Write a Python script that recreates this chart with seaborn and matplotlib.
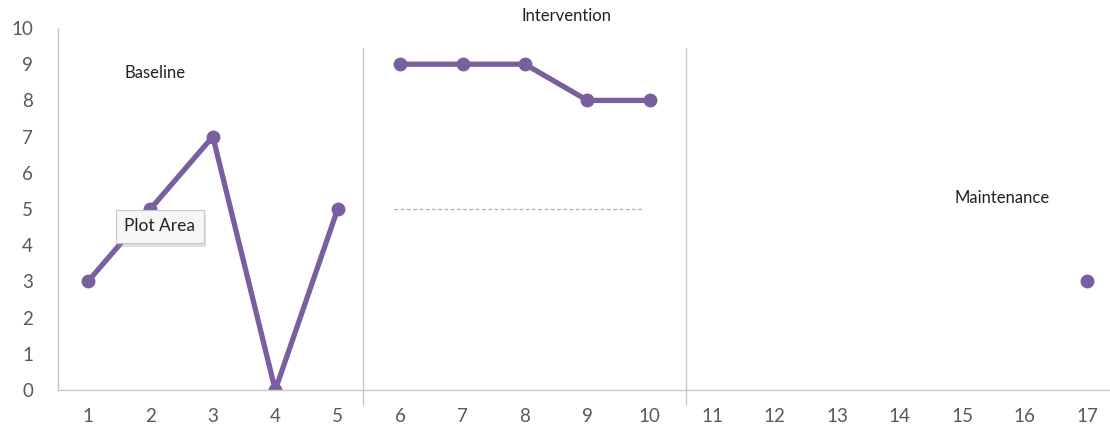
import matplotlib
matplotlib.use("Agg")
import matplotlib.pyplot as plt
import matplotlib.patheffects as pe
import seaborn as sns
import pandas as pd

# Session data by phase
baseline_sessions = [1, 2, 3, 4, 5]
baseline_scores = [3, 5, 7, 0, 5]
intervention_sessions = [6, 7, 8, 9, 10]
intervention_scores = [9, 9, 9, 8, 8]
maintenance_sessions = [17]
maintenance_scores = [3]

x_ticks = list(range(1, 18))
y_ticks = list(range(0, 11))
phase_breaks = [5.4, 10.58]
mean_line_level = 5
mean_line_span = (5.9, 9.9)

df = pd.concat([
    pd.DataFrame({"session": baseline_sessions, "score": baseline_scores, "phase": "Baseline"}),
    pd.DataFrame({"session": intervention_sessions, "score": intervention_scores, "phase": "Intervention"}),
    pd.DataFrame({"session": maintenance_sessions, "score": maintenance_scores, "phase": "Maintenance"}),
])

sns.set_style("white")
plt.rcParams["font.family"] = ["Lato", "DejaVu Sans"]

purple = "#7a5fa0"
grid_grey = "#c8c8c8"
text_grey = "#595959"

fig = plt.figure(figsize=(11.10, 4.37), dpi=100)
ax = fig.add_axes([58 / 1110, 1 - 390 / 437, 1 - 58 / 1110, (390 - 28) / 437])

sns.lineplot(data=df, x="session", y="score", units="phase", estimator=None,
             color=purple, linewidth=3.8, marker="o", markersize=10,
             markeredgewidth=0, ax=ax, legend=False)

ax.set_xlim(0.52, 17.37)
ax.set_ylim(0, 10)
ax.set_xticks(x_ticks)
ax.set_yticks(y_ticks)
ax.tick_params(axis="both", length=0, labelsize=13.5, colors=text_grey)
ax.tick_params(axis="y", pad=18)
ax.tick_params(axis="x", pad=13)
ax.set_xlabel("")
ax.set_ylabel("")

for side in ["top", "right"]:
    ax.spines[side].set_visible(False)
for side in ["left", "bottom"]:
    ax.spines[side].set_color(grid_grey)
    ax.spines[side].set_linewidth(1)

# Phase change lines
for xb in phase_breaks:
    ax.plot([xb, xb], [-0.42, 9.45], color=grid_grey, linewidth=1, clip_on=False, zorder=1)

# Phase mean line
ax.plot(list(mean_line_span), [mean_line_level, mean_line_level], color="#b0b0b0",
        linewidth=0.9, linestyle=(0, (3, 2)), zorder=1)

# Phase labels
label_kw = dict(ha="center", va="center", fontsize=12, color="#222222")
ax.text(2.07, 8.76, "Baseline", **label_kw)
ax.text(8.67, 10.32, "Intervention", clip_on=False, **label_kw)
ax.text(15.64, 5.3, "Maintenance", **label_kw)

# Hover label
t = ax.text(2.15, 4.52, "Plot Area", ha="center", va="center", fontsize=12.5, color="#222222",
            bbox=dict(boxstyle="square,pad=0.5", fc="#f6f6f6", ec="#c8c8c8", lw=0.8),
            zorder=5)
t.get_bbox_patch().set_path_effects([
    pe.SimplePatchShadow(offset=(1.5, -3), shadow_rgbFace="#999999", alpha=0.3),
    pe.Normal(),
])

fig.savefig("out.png", dpi=100)
